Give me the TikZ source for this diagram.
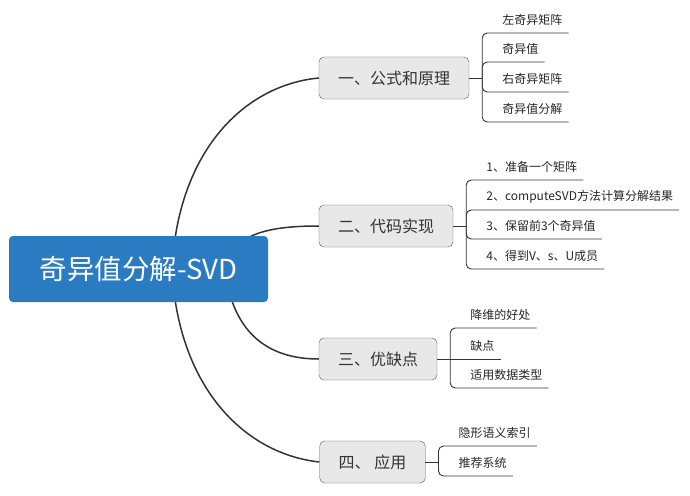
\documentclass[tikz,border=0pt]{standalone}
\usepackage{fontspec}
\setmainfont{Noto Sans CJK SC}
\usetikzlibrary{backgrounds}

\definecolor{rootblue}{HTML}{2B7BC2}
\definecolor{topicgray}{HTML}{E8E8E8}
\definecolor{linegray}{HTML}{333333}

\tikzset{
  root/.style={fill=rootblue, text=white, rounded corners=4pt,
    minimum width=259pt, minimum height=66pt, font=\fontsize{27.5}{30}\selectfont},
  topic/.style={draw=black!65, fill=topicgray, rounded corners=5pt, inner xsep=19pt,
    minimum height=42pt, font=\fontsize{16}{18}\selectfont, text=black!80},
  leaf/.style={anchor=south west, xshift=14pt, inner xsep=6pt, inner ysep=0pt,
    minimum height=26pt, font=\fontsize{12}{14}\selectfont, text=black!85},
  branch/.style={draw=linegray, line width=1.5pt},
  twig/.style={draw=linegray, line width=0.9pt, rounded corners=5pt},
}

\begin{document}
\begin{tikzpicture}[x=1pt,y=-1pt]
\useasboundingbox (0,0) rectangle (690,495);

\node[root] (svd) at (138.5,269) {奇异值分解-SVD};

\node[topic] (t1) at (394,78) {一、公式和原理};
\node[topic] (t2) at (386,226) {二、代码实现};
\node[topic] (t3) at (378,359) {三、优缺点};
\node[topic] (t4) at (372.5,462) {四、 应用};

% curves from the root
\coordinate (s1) at (172,269);
\coordinate (s2) at (225,269);
\begin{scope}[on background layer]
  \draw[branch] (s1) .. controls (178,150) and (245,85) .. (t1.west);
  \draw[branch] (s2) .. controls (232,235) and (265,226) .. (t2.west);
  \draw[branch] (s2) .. controls (232,330) and (265,359) .. (t3.west);
  \draw[branch] (s1) .. controls (178,388) and (245,454) .. (t4.west);
\end{scope}

% leaves
\draw[twig] (t1.east) -- ++(13,0) coordinate (b1);
\foreach \txt/\y [count=\i] in {左奇异矩阵/33, 奇异值/62, 右奇异矩阵/92, 奇异值分解/122} {
  \node[leaf] (l1\i) at (b1 |- 0,\y) {\txt};
  \draw[twig] (b1) |- (l1\i.south west) -- (l1\i.south east);
}

\draw[twig] (t2.east) -- ++(13,0) coordinate (b2);
\foreach \txt/\y [count=\i] in {1、准备一个矩阵/180, 2、computeSVD方法计算分解结果/210,
    3、保留前3个奇异值/239, 4、得到V、s、U成员/269} {
  \node[leaf] (l2\i) at (b2 |- 0,\y) {\txt};
  \draw[twig] (b2) |- (l2\i.south west) -- (l2\i.south east);
}

\draw[twig] (t3.east) -- ++(13,0) coordinate (b3);
\node[leaf] (l31) at (b3 |- 0,328) {降维的好处};
\node[leaf] (l32) at (b3) {缺点};
\node[leaf] (l33) at (b3 |- 0,388) {适用数据类型};
\draw[twig] (b3) |- (l31.south west) -- (l31.south east);
\draw[twig] (b3) -- (l32.south east);
\draw[twig] (b3) |- (l33.south west) -- (l33.south east);

\draw[twig] (t4.east) -- ++(13,0) coordinate (b4);
\foreach \txt/\y [count=\i] in {隐形语义索引/446, 推荐系统/476} {
  \node[leaf] (l4\i) at (b4 |- 0,\y) {\txt};
  \draw[twig] (b4) |- (l4\i.south west) -- (l4\i.south east);
}
\end{tikzpicture}
\end{document}
